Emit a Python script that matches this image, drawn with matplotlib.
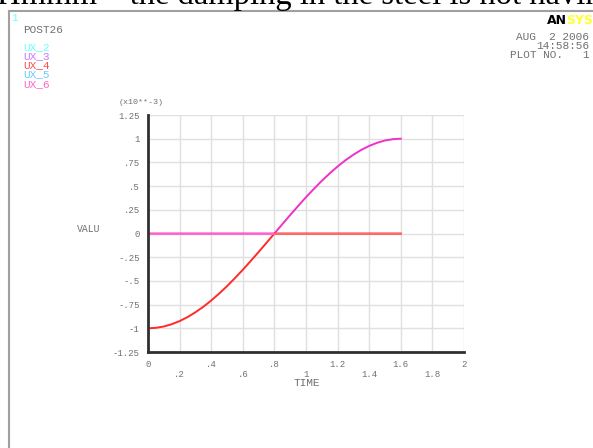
import matplotlib
matplotlib.use("Agg")
import matplotlib.pyplot as plt

# data (x10**-3), values
time = [0.0, 0.05, 0.1, 0.15, 0.2, 0.25, 0.3, 0.35, 0.4, 0.45, 0.5, 0.55, 0.6, 0.65, 0.7, 0.75, 0.8,
        0.85, 0.9, 0.95, 1.0, 1.05, 1.1, 1.15, 1.2, 1.25, 1.3, 1.35, 1.4, 1.45, 1.5, 1.55, 1.6]
ux_4 = [-1.0, -0.995, -0.981, -0.957, -0.924, -0.882, -0.831, -0.773, -0.707, -0.634, -0.556,
        -0.471, -0.383, -0.290, -0.195, -0.098, 0.0,
        0.0, 0.0, 0.0, 0.0, 0.0, 0.0, 0.0, 0.0, 0.0, 0.0, 0.0, 0.0, 0.0, 0.0, 0.0, 0.0]
ux_6 = [0.0, 0.0, 0.0, 0.0, 0.0, 0.0, 0.0, 0.0, 0.0, 0.0, 0.0, 0.0, 0.0, 0.0, 0.0, 0.0, 0.0,
        0.098, 0.195, 0.290, 0.383, 0.471, 0.556, 0.634, 0.707, 0.773, 0.831, 0.882, 0.924,
        0.957, 0.981, 0.995, 1.0]
legend_names = ["UX_2", "UX_3", "UX_4", "UX_5", "UX_6"]
legend_colors = ["#66ffff", "#cc77ff", "#ff5050", "#66ccff", "#ff66cc"]
xticks_major = [0, 0.4, 0.8, 1.2, 1.6, 2.0]
xlabels_major = ["0", ".4", ".8", "1.2", "1.6", "2"]
xticks_minor = [0.2, 0.6, 1.0, 1.4, 1.8]
xlabels_minor = [".2", ".6", "1", "1.4", "1.8"]
yticks = [-1.25, -1.0, -0.75, -0.5, -0.25, 0, 0.25, 0.5, 0.75, 1.0, 1.25]
ylabels = ["-1.25", "-1", "-.75", "-.5", "-.25", "0", ".25", ".5", ".75", "1", "1.25"]

W, H = 593, 448
fig = plt.figure(figsize=(W / 100, H / 100), dpi=100)
fig.patch.set_facecolor("white")

def fx(px):
    return px / W

def fy(py):
    return 1 - py / H

mono = "Liberation Mono"
gray = "#707070"

# top cut-off caption text
fig.text(fx(-3), fy(4), "Hmmm \u2013 the damping in the steel is not havin",
         family="Liberation Serif", fontsize=23.5, color="black", va="baseline", ha="left")

# frame lines
fig.add_artist(plt.Line2D([fx(9), fx(9)], [fy(11), 0], color="#a0a0a0", lw=1.5))
fig.add_artist(plt.Line2D([fx(9), 1], [fy(11), fy(11)], color="#a0a0a0", lw=1.5))

ax = fig.add_axes([fx(148), fy(352), (464 - 148) / W, (352 - 115) / H])
n = time.index(0.8)
ax.plot(time, ux_4, color="#ff2a2a", lw=1.4, zorder=3)
ax.plot(time, ux_6, color="#f030c8", lw=1.4, zorder=3)
ax.plot(time[:n + 1], ux_6[:n + 1], color="#ff66cc", lw=1.4, zorder=4)
ax.plot(time[n:], ux_4[n:], color="#ff6a6a", lw=1.4, zorder=4)

ax.set_xlim(0, 2)
ax.set_ylim(-1.25, 1.25)
ax.set_xticks(xticks_major)
ax.set_xticklabels(xlabels_major)
ax.set_xticks(xticks_minor, minor=True)
ax.set_xticklabels(xlabels_minor, minor=True)
ax.set_yticks(yticks)
ax.set_yticklabels(ylabels)
ax.tick_params(axis="x", which="major", length=0, pad=6, labelsize=6.5, labelcolor=gray)
ax.tick_params(axis="x", which="minor", length=0, pad=13, labelsize=6.5, labelcolor=gray)
ax.tick_params(axis="y", length=0, pad=6, labelsize=6.5, labelcolor=gray)
for lab in ax.get_xticklabels(which="both") + ax.get_yticklabels():
    lab.set_family(mono)
ax.grid(True, which="both", color="#e0e0e0", lw=1.0)
ax.set_axisbelow(True)
for s in ["top", "right"]:
    ax.spines[s].set_visible(False)
for s in ["left", "bottom"]:
    ax.spines[s].set_color("#303030")
    ax.spines[s].set_linewidth(2)
    ax.spines[s].set_zorder(5)

fig.text(fx(307), fy(383), "TIME", family=mono, fontsize=8, color=gray, ha="center", va="center")
fig.text(fx(89), fy(229), "VALU", family=mono, fontsize=7, color=gray, ha="center", va="center")
fig.text(fx(141), fy(103), "(x10**-3)", family=mono, fontsize=6, color=gray, ha="center", va="center")

# header texts
fig.text(fx(15), fy(18), "1", family=mono, fontsize=8, color="#66ffff", ha="center", va="center")
fig.text(fx(23), fy(30), "POST26", family=mono, fontsize=8, color=gray, ha="left", va="center")
for i, (nm, c) in enumerate(zip(legend_names, legend_colors)):
    fig.text(fx(23), fy(47 + i * 9.2), nm, family=mono, fontsize=8, color=c, ha="left", va="center")

fig.text(fx(589), fy(37), "AUG  2 2006", family=mono, fontsize=8, color=gray, ha="right", va="center")
fig.text(fx(589), fy(46), "14:58:56", family=mono, fontsize=8, color=gray, ha="right", va="center")
fig.text(fx(589), fy(55), "PLOT NO.   1", family=mono, fontsize=8, color=gray, ha="right", va="center")

fig.text(fx(547), fy(20), "AN", family="DejaVu Sans", fontsize=9, weight="bold",
         color="black", ha="left", va="center")
fig.text(fx(566), fy(20), "SYS", family="DejaVu Sans", fontsize=9, weight="bold",
         color="#ffff33", ha="left", va="center")

fig.savefig("out.png", dpi=100, facecolor="white")
